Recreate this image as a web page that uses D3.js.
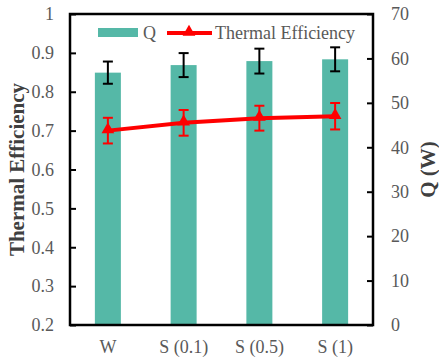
<!DOCTYPE html>
<html><head><meta charset="utf-8">
<script src="https://cdn.jsdelivr.net/npm/d3@7"></script>
<style>
body{margin:0;background:#fff;}
text{font-family:'Liberation Serif','Times New Roman',serif;}
</style></head>
<body>
<svg id="chart" width="439" height="360"></svg>
<script>
const categories = ["W", "S (0.1)", "S (0.5)", "S (1)"];
const qValues = [56.8, 58.5, 59.4, 59.8];
const qErrors = [2.5, 2.7, 2.8, 2.7];
const effValues = [0.700, 0.720, 0.732, 0.737];
const effErrors = [0.033, 0.033, 0.032, 0.034];
const leftTicks = [0.2, 0.3, 0.4, 0.5, 0.6, 0.7, 0.8, 0.9, 1];
const rightTicks = [0, 10, 20, 30, 40, 50, 60, 70];

const FONT = "Liberation Serif, Times New Roman, serif";
const svg = d3.select("#chart").attr("font-family", FONT);
const L = 70, R = 373, T = 14, B = 325;
const teal = "#55b8a7", red = "#ff0000", gray = "#595959", titleGray = "#404040";

const x = d3.scaleBand().domain(categories).range([L, R]).padding(0);
const yL = d3.scaleLinear().domain([0.2, 1]).range([B, T]);
const yR = d3.scaleLinear().domain([0, 70]).range([B, T]);
const barW = 26;

// bars
svg.append("g").selectAll("rect").data(categories).join("rect")
  .attr("x", (d) => x(d) + x.bandwidth() / 2 - barW / 2)
  .attr("y", (d, i) => yR(qValues[i]))
  .attr("width", barW)
  .attr("height", (d, i) => yR(0) - yR(qValues[i]))
  .attr("fill", teal);

// Q error bars
const qe = svg.append("g").attr("stroke", "#000").attr("stroke-width", 2);
categories.forEach((c, i) => {
  const cx = x(c) + x.bandwidth() / 2;
  const y1 = yR(qValues[i] + qErrors[i]), y2 = yR(qValues[i] - qErrors[i]);
  qe.append("line").attr("x1", cx).attr("x2", cx).attr("y1", y1).attr("y2", y2);
  qe.append("line").attr("x1", cx - 5).attr("x2", cx + 5).attr("y1", y1).attr("y2", y1);
  qe.append("line").attr("x1", cx - 5).attr("x2", cx + 5).attr("y1", y2).attr("y2", y2);
});

// efficiency line
const line = d3.line().x((d, i) => x(categories[i]) + x.bandwidth() / 2).y((d) => yL(d));
svg.append("path").datum(effValues).attr("d", line)
  .attr("fill", "none").attr("stroke", red).attr("stroke-width", 4);

const ee = svg.append("g").attr("stroke", red).attr("stroke-width", 2);
categories.forEach((c, i) => {
  const cx = x(c) + x.bandwidth() / 2;
  const y1 = yL(effValues[i] + effErrors[i]), y2 = yL(effValues[i] - effErrors[i]);
  ee.append("line").attr("x1", cx).attr("x2", cx).attr("y1", y1).attr("y2", y2);
  ee.append("line").attr("x1", cx - 5).attr("x2", cx + 5).attr("y1", y1).attr("y2", y1);
  ee.append("line").attr("x1", cx - 5).attr("x2", cx + 5).attr("y1", y2).attr("y2", y2);
});
const tri = d3.symbol().type(d3.symbolTriangle).size(70);
svg.append("g").selectAll("path").data(effValues).join("path")
  .attr("d", tri)
  .attr("transform", (d, i) => `translate(${x(categories[i]) + x.bandwidth() / 2},${yL(d) - 1})`)
  .attr("fill", red);

// axes (inward ticks)
const axL = svg.append("g").attr("transform", `translate(${L},0)`)
  .call(d3.axisRight(yL).tickValues(leftTicks).tickSize(6));
const axR = svg.append("g").attr("transform", `translate(${R},0)`)
  .call(d3.axisLeft(yR).tickValues(rightTicks).tickSize(6));
[axL, axR].forEach((a) => {
  a.select(".domain").remove();
  a.selectAll(".tick line").attr("stroke", "#000").attr("stroke-width", 2);
  a.selectAll(".tick text").remove();
});
// tick labels
svg.append("g").selectAll("text").data(leftTicks).join("text")
  .attr("x", 54).attr("y", (d) => yL(d)).attr("dy", "0.35em")
  .attr("text-anchor", "end").attr("font-size", 18).attr("fill", gray)
  .attr("font-family", FONT)
  .text((d) => d3.format("")(d));
svg.append("g").selectAll("text").data(rightTicks).join("text")
  .attr("x", 391).attr("y", (d) => yR(d)).attr("dy", "0.35em")
  .attr("text-anchor", "start").attr("font-size", 18).attr("fill", gray)
  .attr("font-family", FONT)
  .text((d) => d);
svg.append("g").selectAll("text").data(categories).join("text")
  .attr("x", (d) => x(d) + x.bandwidth() / 2).attr("y", 353)
  .attr("text-anchor", "middle").attr("font-size", 18).attr("fill", gray)
  .attr("font-family", FONT)
  .text((d) => d);

// frame
svg.append("rect").attr("x", L).attr("y", T).attr("width", R - L).attr("height", B - T)
  .attr("fill", "none").attr("stroke", "#000").attr("stroke-width", 2.5);

// titles
svg.append("text").attr("transform", `translate(24,${(T + B) / 2}) rotate(-90)`)
  .attr("text-anchor", "middle").attr("font-size", 21).attr("font-weight", "bold")
  .attr("font-family", FONT)
  .attr("fill", titleGray).text("Thermal Efficiency");
svg.append("text").attr("transform", `translate(435,${(T + B) / 2}) rotate(-90)`)
  .attr("text-anchor", "middle").attr("font-size", 21).attr("font-weight", "bold")
  .attr("font-family", FONT)
  .attr("fill", titleGray).text("Q (W)");

// legend
const lg = svg.append("g");
lg.append("rect").attr("x", 98).attr("y", 28).attr("width", 40).attr("height", 9).attr("fill", teal);
lg.append("text").attr("x", 143).attr("y", 39).attr("font-size", 18).attr("fill", gray)
  .attr("font-family", FONT).text("Q");
lg.append("line").attr("x1", 167).attr("x2", 212).attr("y1", 33).attr("y2", 33)
  .attr("stroke", red).attr("stroke-width", 4);
lg.append("path").attr("d", tri).attr("transform", "translate(189,32)").attr("fill", red);
lg.append("text").attr("x", 215).attr("y", 39).attr("font-size", 18).attr("fill", gray)
  .attr("font-family", FONT).text("Thermal Efficiency");
</script>
</body></html>
